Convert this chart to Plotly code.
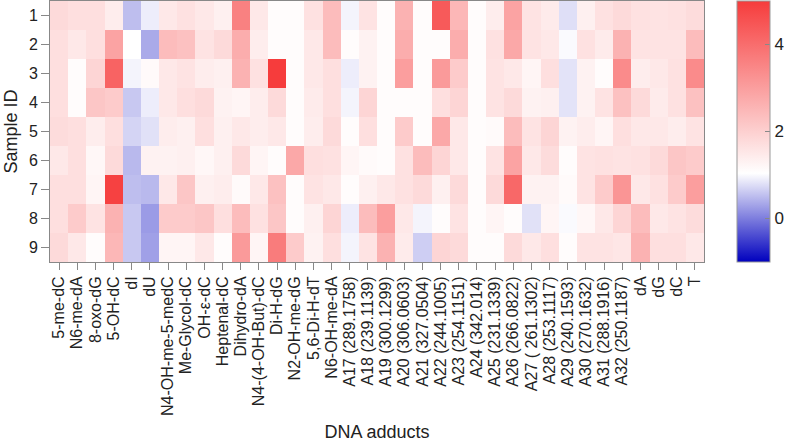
import plotly.graph_objects as go

adducts = ["5-me-dC", "N6-me-dA", "8-oxo-dG", "5-OH-dC", "dI", "dU",
           "N4-OH-me-5-medC", "Me-Glycol-dC", "OH-ε-dC", "Heptenal-dC",
           "Dihydro-dA", "N4-(4-OH-But)-dC", "Di-H-dG", "N2-OH-me-dG",
           "5,6-Di-H-dT", "N6-OH-me-dA", "A17 (289.1758)", "A18 (239.1139)",
           "A19 (300.1299)", "A20 (306.0603)", "A21 (327.0504)", "A22 (244.1005)",
           "A23 (254.1151)", "A24 (342.014)", "A25 (231.1339)", "A26 (266.0822)",
           "A27 ( 261.1302)", "A28 (253.1117)", "A29 (240.1593)", "A30 (270.1632)",
           "A31 (288.1916)", "A32 (250.1187)", "dA", "dG", "dC", "T"]

sample_ids = [1, 2, 3, 4, 5, 6, 7, 8, 9]

s1 = [1.8, 1.7, 1.7, 1.4, 0.52, 0.9, 1.5, 1.65, 1.5, 1.35, 3.6, 1.5, 1.1, 1.1, 1.65, 2.4, 0.95, 1.6,
      1.1, 2.6, 1.1, 4.4, 2.5, 1.1, 1.4, 2.9, 1.6, 1.45, 0.78, 1.35, 1.65, 1.8, 1.65, 1.6, 1.65, 1.75]
s2 = [1.7, 1.5, 1.7, 2.9, 1.05, 0.36, 2.4, 2.3, 1.6, 1.8, 2.7, 1.4, 1.1, 1.1, 1.5, 2.4, 1.1, 1.3,
      1.1, 2.7, 1.1, 1.1, 2.7, 1.1, 1.65, 2.8, 1.6, 1.5, 1.0, 1.65, 1.45, 2.6, 1.6, 1.6, 1.6, 2.4]
s3 = [1.7, 1.1, 1.9, 4.2, 0.95, 1.15, 1.5, 1.6, 1.4, 1.35, 2.6, 1.65, 5.0, 1.1, 1.5, 1.7, 0.9, 1.3,
      1.1, 3.0, 1.1, 3.1, 2.1, 1.1, 1.6, 1.5, 1.25, 1.7, 0.82, 1.3, 1.1, 3.4, 1.4, 1.5, 1.65, 3.4]
s4 = [1.7, 1.1, 2.2, 2.1, 0.6, 0.9, 1.5, 1.7, 1.8, 1.3, 1.25, 1.4, 1.8, 1.1, 1.45, 1.7, 0.95, 1.9,
      1.1, 1.1, 1.1, 1.7, 1.9, 1.1, 1.6, 1.8, 1.3, 1.35, 0.82, 1.3, 1.6, 2.3, 1.8, 1.45, 1.65, 2.3]
s5 = [1.75, 1.7, 1.4, 1.7, 0.7, 0.8, 1.4, 1.35, 1.7, 1.35, 1.5, 1.4, 1.5, 1.1, 1.4, 1.8, 1.1, 1.7,
      1.1, 2.1, 1.1, 2.8, 1.5, 1.1, 1.15, 2.4, 1.6, 1.9, 1.3, 1.4, 1.25, 1.7, 1.5, 1.5, 1.4, 1.6]
s6 = [1.5, 1.7, 1.2, 1.8, 0.48, 1.3, 1.3, 1.35, 1.2, 1.35, 1.8, 1.25, 1.1, 2.8, 1.7, 1.65, 1.25, 1.15,
      1.1, 1.65, 2.4, 1.9, 1.5, 1.1, 1.6, 2.9, 1.5, 1.75, 1.1, 1.6, 1.65, 1.6, 1.65, 1.8, 2.2, 2.1]
s7 = [1.7, 1.7, 1.25, 4.9, 0.52, 0.48, 1.5, 2.2, 1.35, 1.4, 1.15, 1.5, 2.3, 1.1, 1.6, 1.5, 1.1, 1.35,
      1.5, 1.65, 1.8, 1.35, 1.8, 1.1, 1.8, 4.1, 1.3, 1.3, 1.15, 1.6, 2.1, 3.2, 1.5, 1.65, 2.1, 3.0]
s8 = [1.7, 2.1, 1.6, 2.6, 0.6, 0.24, 2.1, 2.1, 2.2, 1.7, 2.4, 1.65, 2.2, 1.1, 1.35, 1.9, 0.9, 2.4,
      3.0, 1.5, 0.95, 1.1, 1.6, 1.1, 1.25, 1.1, 0.8, 1.25, 1.0, 1.2, 1.5, 1.9, 2.4, 1.5, 1.6, 1.75]
s9 = [1.8, 1.5, 1.1, 2.5, 0.6, 0.28, 1.25, 1.25, 1.5, 1.1, 3.1, 1.25, 3.7, 2.1, 1.3, 1.7, 0.95, 1.6,
      2.6, 1.45, 0.65, 1.9, 1.8, 1.1, 1.1, 1.8, 1.5, 1.7, 1.1, 1.6, 1.6, 1.55, 2.6, 1.7, 1.7, 1.5]

z = [s1, s2, s3, s4, s5, s6, s7, s8, s9]

colorbar_ticks = [0, 2, 4]

font_family = "Liberation Sans, Arial, sans-serif"

fig = go.Figure(go.Heatmap(
    z=z, x=adducts, y=sample_ids,
    zmin=-1, zmax=5,
    colorscale=[[0, "rgb(0,0,190)"], [0.34, "rgb(255,255,255)"], [1, "rgb(246,60,60)"]],
    xgap=0, ygap=0,
    colorbar=dict(
        x=737 / 791, xanchor="left", xref="container",
        y=0.5, yanchor="middle", len=1.0, lenmode="fraction",
        xpad=0, ypad=0,
        thickness=33, outlinecolor="#999999", outlinewidth=1,
        tickvals=colorbar_ticks, ticks="inside", ticklen=5, tickcolor="#888888",
        tickfont=dict(size=17, color="#222222", family=font_family),
    ),
))

fig.update_layout(
    width=791, height=442,
    margin=dict(l=50, r=87, t=1, b=180, autoexpand=False),
    paper_bgcolor="white", plot_bgcolor="white",
    font=dict(family=font_family, color="#222222", size=16),
    xaxis=dict(
        title=dict(text="DNA adducts", font=dict(size=18), standoff=14),
        tickmode="array", tickvals=adducts, ticktext=adducts,
        tickangle=-90, tickfont=dict(size=16), automargin=False,
        ticks="outside", ticklen=7, tickcolor="#888888",
        showline=True, linecolor="#888888", linewidth=1, mirror=True,
        showgrid=False, zeroline=False,
    ),
    yaxis=dict(
        title=dict(text="Sample ID", font=dict(size=18), standoff=6),
        autorange="reversed", tickvals=sample_ids, tickfont=dict(size=16),
        ticks="outside", ticklen=8, tickcolor="#888888", automargin=False,
        showline=True, linecolor="#888888", linewidth=1, mirror=True,
        showgrid=False, zeroline=False,
    ),
)

fig.write_html("out.html")
